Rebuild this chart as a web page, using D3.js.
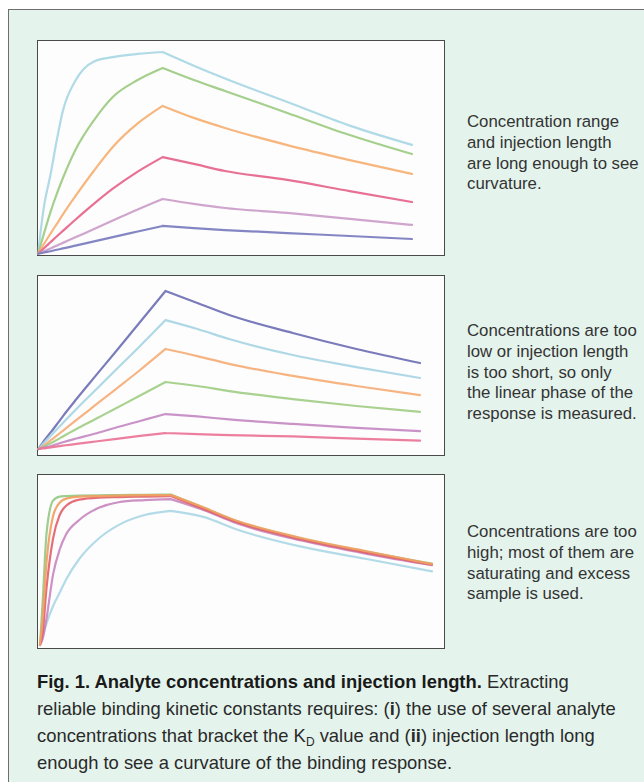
<!DOCTYPE html>
<html><head><meta charset="utf-8">
<script src="https://cdn.jsdelivr.net/npm/d3@7"></script>
<style>html,body{margin:0;padding:0;background:#fff;}svg{display:block;}</style>
</head><body>
<svg id="chart" width="644" height="782"></svg>
<script>
// ---------- data ----------
const times = [0, 2, 5, 10, 15, 20, 30, 45, 60, 80, 100, 125, 150, 200, 250, 300];
const injectionEndIndex = 10; // t = 100 s

// Panel 1: range and injection length adequate
const p1Names = ["c6", "c5", "c4", "c3", "c2", "c1"];
const p1Values = [
  [0, 10, 23, 37, 53, 67, 81, 90, 92, 93.5, 94.4, 88, 82, 71, 60, 51],
  [0, 4, 10, 19.6, 28, 35.5, 48.6, 62.6, 73.4, 81.3, 86.9, 81.3, 76.2, 65.9, 55.6, 46.7],
  [0, 2, 4.9, 9.5, 14, 18.5, 27, 39, 50, 61, 69.2, 63.6, 58.9, 50.9, 43.9, 37.4],
  [0, 1.1, 2.8, 5.5, 8.2, 10.8, 16, 23.5, 30.5, 38.5, 45.3, 42.1, 38.8, 34.6, 29.4, 24.3],
  [0, 0.5, 1.3, 2.6, 3.9, 5.2, 7.8, 11.7, 15.6, 20.8, 25.7, 23.4, 21.5, 19.2, 16.4, 13.6],
  [0, 0.3, 0.7, 1.3, 2, 2.6, 3.9, 5.9, 7.9, 10.5, 13.1, 12.1, 11.2, 9.8, 8.4, 7.0]
];
// Panel 2: concentrations too low / injection too short
const p2Names = ["c6", "c5", "c4", "c3", "c2", "c1"];
const p2Values = [
  [0, 2.1, 5.2, 9.8, 14.6, 19.5, 28.7, 42.0, 55.2, 73.0, 90.8, 83.9, 77.0, 66.7, 57.5, 49.4],
  [0, 1.6, 4.0, 7.8, 11.6, 15.5, 23.0, 33.9, 44.8, 59.2, 74.1, 69.0, 63.2, 54.0, 47.1, 40.8],
  [0, 0.9, 2.3, 5.2, 8, 10.9, 16.7, 25.3, 33.9, 45.4, 57.5, 53.4, 48.9, 42.0, 36.2, 31.0],
  [0, 0.7, 1.7, 3.4, 5.4, 7.5, 11.5, 17.2, 23.0, 30.7, 38.5, 36.2, 33.3, 28.7, 24.7, 21.3],
  [0, 0.4, 0.9, 1.7, 2.9, 4.0, 6.0, 8.9, 12.1, 16.1, 20.1, 18.7, 17.0, 14.4, 12.1, 10.3],
  [0, 0.2, 0.4, 0.9, 1.5, 2.0, 2.9, 4.3, 5.7, 7.5, 9.2, 8.6, 8.0, 7.2, 6.0, 4.8]
];
// Panel 3: concentrations too high (saturating)
const p3Names = ["c1", "c2", "c3", "c4", "c5"];
const p3Values = [
  [0, 4.8, 12.6, 22.8, 30.5, 38.3, 50.3, 62.3, 70.1, 76.0, 78.4, 74.9, 67.7, 57.5, 50.3, 43.1],
  [0, 3.6, 15.6, 41.3, 55.7, 64.7, 73.1, 80.2, 83.5, 84.7, 85.3, 79.0, 71.3, 61.1, 53.3, 46.7],
  [0, 24.6, 65.3, 84.4, 86.8, 87.1, 87.4, 87.5, 87.7, 87.8, 88.0, 80.2, 72.5, 62.3, 54.5, 47.6],
  [0, 6.6, 33.5, 62.3, 76.0, 81.4, 85.0, 86.2, 86.5, 86.8, 87.1, 79.6, 71.9, 61.7, 53.9, 47.0],
  [0, 15.6, 48.5, 75.4, 83.2, 85.6, 86.8, 87.1, 87.4, 87.7, 87.8, 80.5, 72.8, 62.6, 54.8, 47.3]
];

const p1Text = ["Concentration range", "and injection length", "are long enough to see", "curvature."];
const p2Text = ["Concentrations are too", "low or injection length", "is too short, so only", "the linear phase of the", "response is measured."];
const p3Text = ["Concentrations are too", "high; most of them are", "saturating and excess", "sample is used."];

// ---------- styles ----------
const p1Colors = ["#a8d7e4", "#9dcb82", "#f5b073", "#e5648a", "#cc9dc9", "#7a7cbf"];
const p2Colors = ["#6f70b4", "#a8d5e4", "#f5ae78", "#a2cd86", "#c58ac3", "#ec7496"];
const p3Colors = ["#abd8e5", "#c888c0", "#96c987", "#e2636f", "#f0a062"];

const svg = d3.select("#chart");

// outer box
svg.append("rect").attr("x", 8.5).attr("y", 9.5).attr("width", 700).attr("height", 800)
  .attr("fill", "#e4f4ec").attr("stroke", "#6e6e6e").attr("stroke-width", 1);

const panels = [
  {names: p1Names, values: p1Values, colors: p1Colors, text: p1Text,
   box: [37, 40, 407, 215], xr: [38, 412], yr: [254, 40], textY: 127, lh: 20.8},
  {names: p2Names, values: p2Values, colors: p2Colors, text: p2Text,
   box: [37, 275, 407, 180], xr: [38.3, 420], yr: [449, 275], textY: 336, lh: 20.8},
  {names: p3Names, values: p3Values, colors: p3Colors, text: p3Text,
   box: [37, 474, 407, 174], xr: [40, 432], yr: [645, 474], textY: 537, lh: 20.8}
];

panels.forEach((p, pi) => {
  const [bx, by, bw, bh] = p.box;
  const g = svg.append("g");
  const clipId = "clip" + pi;
  svg.append("clipPath").attr("id", clipId).append("rect")
    .attr("x", bx + 0.5).attr("y", by + 0.5).attr("width", bw - 1).attr("height", bh - 1);
  g.append("rect").attr("x", bx + 0.5).attr("y", by + 0.5).attr("width", bw).attr("height", bh)
    .attr("fill", "#fdfdfd").attr("stroke", "#4a4a4a").attr("stroke-width", 1);

  const x = d3.scaleLinear().domain([0, 300]).range(p.xr);
  const y = d3.scaleLinear().domain([0, 100]).range(p.yr);
  const line = d3.line().x(d => x(d[0])).y(d => y(d[1])).curve(d3.curveMonotoneX);

  const lines = g.append("g").attr("clip-path", `url(#${clipId})`);
  p.values.forEach((vals, i) => {
    const pts = times.map((t, k) => [t, vals[k]]);
    const rise = pts.slice(0, injectionEndIndex + 1);
    const decay = pts.slice(injectionEndIndex);
    lines.append("path")
      .attr("d", line(rise) + line(decay))
      .attr("fill", "none")
      .attr("stroke", p.colors[i])
      .attr("stroke-width", 2.2)
      .attr("stroke-linejoin", "round")
      .attr("stroke-linecap", "round")
      .attr("opacity", 0.92);
  });

  const t = svg.append("text").attr("font-family", "'Liberation Sans', Arial, sans-serif")
    .attr("font-size", 16.8).attr("fill", "#333");
  p.text.forEach((s, i) => {
    t.append("tspan").attr("x", 467).attr("y", p.textY + i * p.lh).text(s);
  });
});

// caption
const cap = svg.append("text").attr("font-family", "'Liberation Sans', Arial, sans-serif")
  .attr("font-size", 18.4).attr("fill", "#2a2a2a");
const capY = [688, 715, 742, 769];
const l1 = cap.append("tspan").attr("x", 37).attr("y", capY[0]);
l1.append("tspan").attr("font-weight", "bold").attr("fill", "#1a1a1a").text("Fig. 1. Analyte concentrations and injection length.");
l1.append("tspan").text(" Extracting");
const l2 = cap.append("tspan").attr("x", 37).attr("y", capY[1]);
l2.append("tspan").text("reliable binding kinetic constants requires: (");
l2.append("tspan").attr("font-weight", "bold").text("i");
l2.append("tspan").text(") the use of several analyte");
const l3 = cap.append("tspan").attr("x", 37).attr("y", capY[2]);
l3.append("tspan").text("concentrations that bracket the K");
l3.append("tspan").attr("font-size", 12).attr("dy", 4).text("D");
l3.append("tspan").attr("dy", -4).text(" value and (");
l3.append("tspan").attr("font-weight", "bold").text("ii");
l3.append("tspan").text(") injection length long");
cap.append("tspan").attr("x", 37).attr("y", capY[3]).text("enough to see a curvature of the binding response.");
</script>
</body></html>
